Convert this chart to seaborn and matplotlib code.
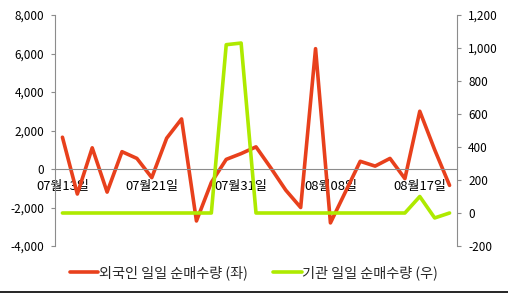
import matplotlib
matplotlib.use('Agg')
import matplotlib.pyplot as plt
import seaborn as sns
import pandas as pd
import numpy as np
from matplotlib.ticker import FuncFormatter
from matplotlib.lines import Line2D

sns.set_style('white')
plt.rcParams['font.family'] = ['Noto Sans CJK KR', 'DejaVu Sans']

dates = ['07월13일', '07월14일', '07월15일', '07월16일', '07월17일', '07월20일',
         '07월21일', '07월22일', '07월23일', '07월24일', '07월27일', '07월29일',
         '07월31일', '08월01일', '08월03일', '08월04일', '08월05일', '08월06일',
         '08월08일', '08월10일', '08월11일', '08월12일', '08월13일', '08월14일',
         '08월17일', '08월18일', '08월19일']
foreign = [1650, -1300, 1100, -1200, 900, 550, -450, 1600, 2600, -2700,
           -700, 500, 800, 1150, 50, -1100, -2000, 6250, -2800, -1200,
           400, 150, 550, -500, 3000, 1000, -850]
institution = [0, 0, 0, 0, 0, 0, 0, 0, 0, 0,
               0, 1020, 1030, 0, 0, 0, 0, 0, 0, 0,
               0, 0, 0, 0, 100, -30, 0]
label_foreign = '외국인 일일 순매수량 (좌)'
label_inst = '기관 일일 순매수량 (우)'

df = pd.DataFrame({'idx': np.arange(len(dates)), 'date': dates,
                   'foreign': foreign, 'inst': institution})

RED = '#E8401C'
GREEN = '#AEEA00'
GRAY = '#8C8C8C'
FS = 8.5

fig, ax = plt.subplots(figsize=(5.08, 2.95), dpi=100)
fig.subplots_adjust(left=55/508, right=457/508, top=1-15/295, bottom=1-246/295)
ax2 = ax.twinx()

sns.lineplot(data=df, x='idx', y='foreign', ax=ax, color=RED, lw=2.6, legend=False)
sns.lineplot(data=df, x='idx', y='inst', ax=ax2, color=GREEN, lw=2.6, legend=False)

ax.set_xlim(-0.5, len(dates) - 0.5)
ax.set_ylim(-4000, 8000)
ax2.set_ylim(-200, 1200)
ax.set_yticks(range(-4000, 8001, 2000))
ax2.set_yticks(range(-200, 1201, 200))
fmt = FuncFormatter(lambda v, p: f'{int(v):,}')
ax.yaxis.set_major_formatter(fmt)
ax2.yaxis.set_major_formatter(fmt)
ax.set_xlabel('')
ax.set_ylabel('')
ax2.set_ylabel('')

lab_idx = [0, 6, 12, 18, 24]
ax.set_xticks(lab_idx)
ax.set_xticklabels([dates[i] for i in lab_idx])
ax.set_xticks(np.arange(-0.5, len(dates), 1), minor=True)

for s in ['top', 'right']:
    ax.spines[s].set_visible(False)
for s in ['top', 'left', 'bottom']:
    ax2.spines[s].set_visible(False)
ax.spines['bottom'].set_position(('data', 0))
for sp in [ax.spines['left'], ax.spines['bottom'], ax2.spines['right']]:
    sp.set_color(GRAY)
    sp.set_linewidth(0.8)

ax.tick_params(axis='x', which='major', length=0, pad=8, labelsize=9.4, colors='black')
ax.tick_params(axis='x', which='minor', length=3, width=0.8, color=GRAY, direction='out')
ax.tick_params(axis='y', length=3, width=0.8, color=GRAY, labelsize=FS, labelcolor='black', pad=5)
ax2.tick_params(axis='y', length=3, width=0.8, color=GRAY, labelsize=FS, labelcolor='black', pad=5)

handles = [Line2D([], [], color=RED, lw=2.6), Line2D([], [], color=GREEN, lw=2.6)]
fig.legend(handles, [label_foreign, label_inst], loc='center', ncol=2,
           bbox_to_anchor=(0.5, 1 - 273/295), frameon=False, fontsize=10.2,
           handlelength=2.0, handletextpad=0.05, columnspacing=1.8)

fig.add_artist(Line2D([0, 1], [1 - 292/295, 1 - 292/295], color='black', lw=1.2,
                      transform=fig.transFigure))

fig.savefig('out.png', dpi=100)
